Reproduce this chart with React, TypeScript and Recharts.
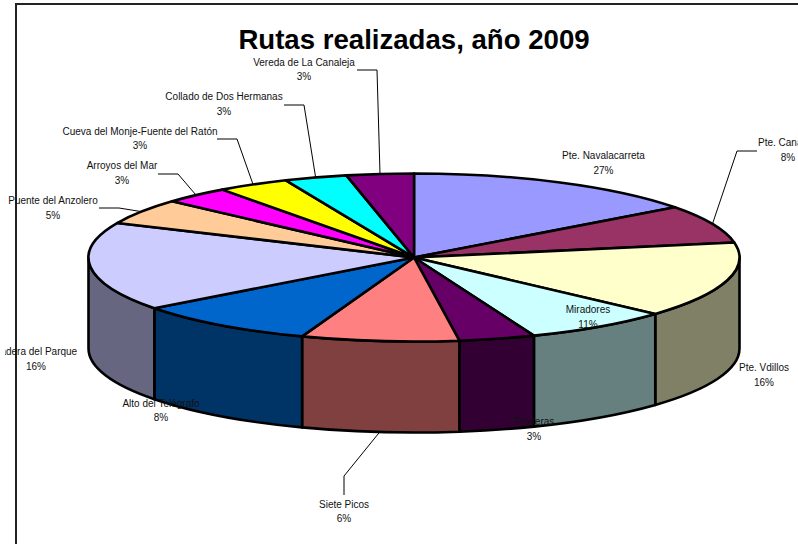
import React from 'react';
import { PieChart, Pie, Cell } from 'recharts';

const routes = [
  'Pte. Navalacarreta',
  'Pte. Canaleja',
  'Pte. Vdillos',
  'Miradores',
  'Praderas',
  'Siete Picos',
  'Alto del Telégrafo',
  'Ladera del Parque',
  'Puente del Anzolero',
  'Arroyos del Mar',
  'Cueva del Monje-Fuente del Ratón',
  'Collado de Dos Hermanas',
  'Vereda de La Canaleja',
];

// slice sizes as drawn (the printed percentages do not match them)
const sliceValues = [14.8, 7.33, 14.58, 7.28, 3.78, 7.81, 9.11, 17.03, 4.94, 3.31, 3.58, 3.11, 3.33];
const printedPercents = ['27%', '8%', '16%', '11%', '3%', '6%', '8%', '16%', '5%', '3%', '3%', '3%', '3%'];

const topColors = [
  '#9999FF', '#993366', '#FFFFCC', '#CCFFFF', '#660066', '#FF8080', '#0066CC',
  '#CCCCFF', '#FFCC99', '#FF00FF', '#FFFF00', '#00FFFF', '#800080',
];
const wallColors = [
  '#4C4C80', '#4C1933', '#808066', '#668080', '#330033', '#804040', '#003366',
  '#666680', '#806650', '#800080', '#808000', '#008080', '#400040',
];

// label placement: centre x, first baseline, second baseline
const labelSpots = [
  [603.5, 159, 174],
  [788, 146, 161],
  [764, 371, 386],
  [588, 313, 328],
  [534, 425, 440],
  [344, 508, 522],
  [161, 407, 421],
  [36, 355, 370],
  [53, 204, 219],
  [122, 169, 184],
  [140, 135, 149],
  [224, 100, 115],
  [304, 66, 80],
];

// leader lines: from label side to elbow, the rim end comes from the slice angle
const leaders: Record<number, number[][]> = {
  1: [[757, 151], [737, 151]],
  5: [[344, 495], [344, 476]],
  8: [[99, 208], [119, 208]],
  9: [[158, 174], [178, 174]],
  10: [[217, 139], [237, 139]],
  11: [[284, 105], [304, 105]],
  12: [[357, 70], [377, 70]],
};

const tableData = routes.map((name, i) => ({ name, value: sliceValues[i] }));

const CX = 414;
const CY = 257.5;
const RX = 325.5;
const RY = 84;
const DEPTH = 91;
const RAD = Math.PI / 180;

const rimX = (angle: number) => CX + RX * Math.cos(angle * RAD);
const rimY = (angle: number) => CY - RY * Math.sin(angle * RAD);

function TopFace(props: any) {
  const { startAngle, endAngle, fill } = props;
  const large = Math.abs(startAngle - endAngle) > 180 ? 1 : 0;
  const d = `M${CX},${CY} L${rimX(startAngle)},${rimY(startAngle)} A${RX},${RY} 0 ${large} 1 ${rimX(endAngle)},${rimY(endAngle)} Z`;
  return <path d={d} fill={fill} stroke="#000" strokeWidth={2.6} strokeLinejoin="round" />;
}

// only the front half of the disc shows a wall
function SideWall(props: any) {
  const start = Math.min(props.startAngle, 0);
  const end = Math.max(props.endAngle, -180);
  if (start <= end) return <g />;
  const d =
    `M${rimX(start)},${rimY(start)} A${RX},${RY} 0 0 1 ${rimX(end)},${rimY(end)} ` +
    `L${rimX(end)},${rimY(end) + DEPTH} A${RX},${RY} 0 0 0 ${rimX(start)},${rimY(start) + DEPTH} Z`;
  return <path d={d} fill={props.fill} stroke="#000" strokeWidth={2.6} strokeLinejoin="round" />;
}

function SliceLabel(props: any) {
  const { index, midAngle } = props;
  const [x, y1, y2] = labelSpots[index];
  const leader = leaders[index];
  let line = null;
  if (leader) {
    // Siete Picos ties to the bottom edge of the wall
    const endY = rimY(midAngle) + (index === 5 ? DEPTH : 0);
    const pts = [...leader, [rimX(midAngle), endY]].map((p) => p.join(',')).join(' ');
    line = <polyline points={pts} fill="none" stroke="#000" strokeWidth={1} />;
  }
  return (
    <g clipPath="url(#labelClip)">
      {line}
      <text x={x} y={y1} textAnchor="middle" fontSize={10} fontFamily="Liberation Sans" fill="#111">
        {routes[index]}
      </text>
      <text x={x} y={y2} textAnchor="middle" fontSize={10} fontFamily="Liberation Sans" fill="#111">
        {printedPercents[index]}
      </text>
    </g>
  );
}

export default function App() {
  return (
    <div style={{ position: 'fixed', left: 0, top: 0, width: 798, height: 544, background: '#fff', overflow: 'hidden' }}>
      <div
        style={{
          position: 'absolute',
          left: 15,
          top: 3,
          width: 800,
          height: 560,
          borderLeft: '2px solid #222',
          borderTop: '2px solid #222',
        }}
      />
      <div style={{ position: 'absolute', left: 0, top: 0 }}>
        <PieChart width={798} height={544} margin={{ top: 0, right: 0, bottom: 0, left: 0 }}>
          <defs>
            <clipPath id="labelClip">
              <rect x={5} y={0} width={793} height={544} />
            </clipPath>
          </defs>
          <text
            x={414}
            y={49}
            textAnchor="middle"
            fontSize={27.6}
            fontWeight="bold"
            fontFamily="Liberation Sans"
            fill="#000"
          >
            Rutas realizadas, año 2009
          </text>
          <Pie
            data={tableData}
            dataKey="value"
            cx={CX}
            cy={CY}
            outerRadius={RX}
            startAngle={90}
            endAngle={-270}
            shape={SideWall}
            isAnimationActive={false}
          >
            {tableData.map((_, i) => (
              <Cell key={`wall-${i}`} fill={wallColors[i]} />
            ))}
          </Pie>
          <Pie
            data={tableData}
            dataKey="value"
            cx={CX}
            cy={CY}
            outerRadius={RX}
            startAngle={90}
            endAngle={-270}
            shape={TopFace}
            label={SliceLabel}
            labelLine={false}
            isAnimationActive={false}
          >
            {tableData.map((_, i) => (
              <Cell key={`top-${i}`} fill={topColors[i]} />
            ))}
          </Pie>
        </PieChart>
      </div>
    </div>
  );
}
